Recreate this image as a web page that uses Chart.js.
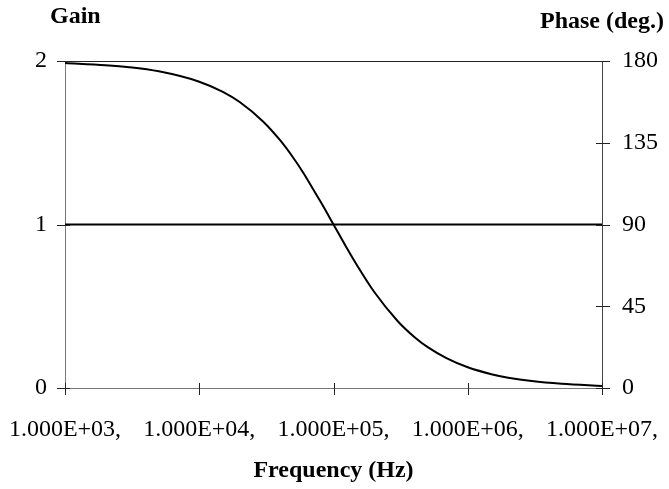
<!DOCTYPE html>
<html>
<head>
<meta charset="utf-8">
<script src="https://cdn.jsdelivr.net/npm/chart.js@4.4.0/dist/chart.umd.min.js"></script>
<style>
  html, body { margin: 0; padding: 0; background: #fff; }
</style>
</head>
<body>
<canvas id="chart" width="669" height="489"></canvas>
<script>
// Frequency sweep (Hz)
const frequencies = [1e3, 2e3, 3e3, 5e3, 1e4, 1.5e4, 2e4, 3e4, 4e4, 5e4, 6e4, 7e4, 8e4, 1e5,
  1.25e5, 1.5e5, 2e5, 3e5, 4e5, 5e5, 7e5, 1e6, 1.5e6, 2e6, 3e6, 5e6, 1e7];

// Phase curve (deg.), right axis
const phaseDeg = [178.9, 177.7, 176.6, 174.3, 168.6, 163.0, 157.4, 146.6, 136.4, 126.9, 118.1, 109.8, 102.6, 90.0,
  77.3, 67.4, 53.1, 36.9, 28.1, 22.6, 16.3, 11.4, 7.6, 5.7, 3.8, 2.3, 1.1];

// Gain (all-pass, flat), left axis
const gain = [1, 1, 1, 1, 1, 1, 1, 1, 1, 1, 1, 1, 1, 1,
  1, 1, 1, 1, 1, 1, 1, 1, 1, 1, 1, 1, 1];

const freqTicks = [1e3, 1e4, 1e5, 1e6, 1e7];
const freqTickLabels = ["1.000E+03,", "1.000E+04,", "1.000E+05,", "1.000E+06,", "1.000E+07,"];
const gainTicks = [0, 1, 2];
const phaseTicks = [0, 45, 90, 135, 180];

const FONT = "'Liberation Serif', 'Times New Roman', serif";

// Axis titles at the top and tick marks that cross the axis lines
const framePlugin = {
  id: "frame",
  afterDraw(chart) {
    const ctx = chart.ctx;
    const area = chart.chartArea;
    const x = chart.scales.x;
    const y = chart.scales.y;
    const y1 = chart.scales.y1;

    ctx.save();
    ctx.strokeStyle = "#222";
    ctx.lineWidth = 1;
    ctx.beginPath();
    gainTicks.forEach((v) => {
      const py = Math.round(y.getPixelForValue(v)) + 0.5;
      ctx.moveTo(area.left - 8, py);
      ctx.lineTo(area.left + 5, py);
    });
    phaseTicks.forEach((v) => {
      const py = Math.round(y1.getPixelForValue(v)) + 0.5;
      ctx.moveTo(area.right - 6, py);
      ctx.lineTo(area.right + 8, py);
    });
    freqTicks.forEach((v) => {
      const px = Math.round(x.getPixelForValue(v)) + 0.5;
      ctx.moveTo(px, area.bottom - 5);
      ctx.lineTo(px, area.bottom + 7);
    });
    ctx.stroke();

    ctx.fillStyle = "#000";
    ctx.font = "bold 24px " + FONT;
    ctx.textBaseline = "alphabetic";
    ctx.textAlign = "left";
    ctx.fillText("Gain", 50, 23);
    ctx.fillText("Phase (deg.)", 540, 28);
    ctx.restore();
  },
};

new Chart(document.getElementById("chart"), {
  type: "line",
  data: {
    labels: frequencies,
    datasets: [
      {
        label: "Phase",
        data: frequencies.map((f, i) => ({ x: f, y: phaseDeg[i] })),
        yAxisID: "y1",
        borderColor: "#000",
        borderWidth: 2,
        pointRadius: 0,
        cubicInterpolationMode: "monotone",
        fill: false,
      },
      {
        label: "Gain",
        data: frequencies.map((f, i) => ({ x: f, y: gain[i] })),
        yAxisID: "y",
        borderColor: "#000",
        borderWidth: 2,
        pointRadius: 0,
        fill: false,
      },
    ],
  },
  options: {
    responsive: false,
    animation: false,
    devicePixelRatio: 1,
    layout: { padding: { top: 61, left: 0, right: 0, bottom: 0 } },
    plugins: {
      legend: { display: false },
      tooltip: { enabled: false },
    },
    scales: {
      x: {
        type: "logarithmic",
        position: "bottom",
        min: 1e3,
        max: 1e7,
        afterBuildTicks: (scale) => {
          scale.ticks = freqTicks.map((v) => ({ value: v }));
        },
        afterFit: (scale) => {
          scale.height = 101;
          scale.paddingLeft = 0;
          scale.paddingRight = 0;
        },
        ticks: {
          autoSkip: false,
          maxRotation: 0,
          padding: 27,
          color: "#000",
          font: { family: FONT, size: 24 },
          callback: (value, index) => freqTickLabels[index],
        },
        grid: { display: false, drawTicks: false },
        border: { display: true, color: "#777", width: 1 },
        title: {
          display: true,
          text: "Frequency (Hz)",
          color: "#000",
          font: { family: FONT, size: 24, weight: "bold" },
          padding: { top: 0, bottom: 4 },
        },
      },
      y: {
        position: "left",
        min: 0,
        max: 2,
        afterBuildTicks: (scale) => {
          scale.ticks = gainTicks.map((v) => ({ value: v }));
        },
        afterFit: (scale) => {
          scale.width = 65;
        },
        ticks: {
          padding: 18,
          color: "#000",
          font: { family: FONT, size: 24 },
        },
        grid: { color: "#222", drawTicks: false, lineWidth: 1 },
        border: { display: true, color: "#777", width: 1 },
      },
      y1: {
        position: "right",
        min: 0,
        max: 180,
        afterBuildTicks: (scale) => {
          scale.ticks = phaseTicks.map((v) => ({ value: v }));
        },
        afterFit: (scale) => {
          scale.width = 67;
        },
        ticks: {
          padding: 20,
          color: "#000",
          font: { family: FONT, size: 24 },
        },
        grid: { drawOnChartArea: false, drawTicks: false },
        border: { display: true, color: "#444", width: 1 },
      },
    },
  },
  plugins: [framePlugin],
});
</script>
</body>
</html>
